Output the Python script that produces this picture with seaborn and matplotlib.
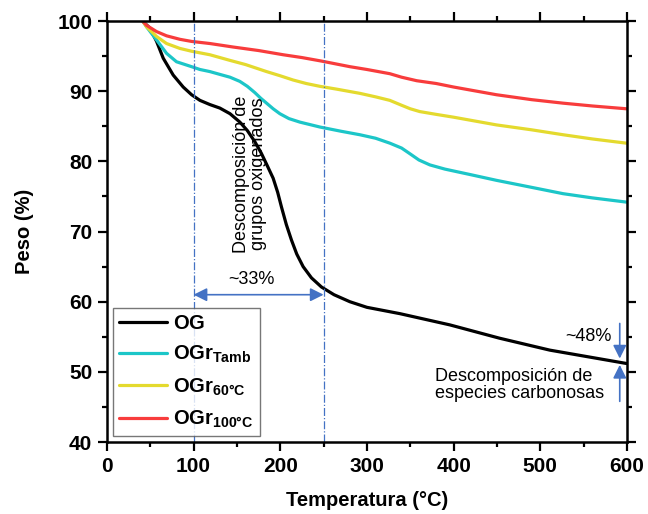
import matplotlib
matplotlib.use("Agg")
import matplotlib.pyplot as plt
import seaborn as sns
import pandas as pd
from matplotlib.ticker import MultipleLocator

sns.set_theme(style="ticks")
plt.rcParams['font.family'] = ['Liberation Sans', 'DejaVu Sans']
plt.rcParams['mathtext.fontset'] = 'custom'
plt.rcParams['mathtext.rm'] = 'Liberation Sans'
plt.rcParams['mathtext.bf'] = 'Liberation Sans:bold'
plt.rcParams['mathtext.it'] = 'Liberation Sans:italic'
plt.rcParams['text.color'] = 'black'
plt.rcParams['axes.labelcolor'] = 'black'
plt.rcParams['xtick.color'] = 'black'
plt.rcParams['ytick.color'] = 'black'

# --- data ---
og_T = [41.9, 49.6, 57.3, 65, 76.5, 88, 97.7, 107.3, 118.8, 130.3, 142, 153.4, 162, 170.7, 178, 184.2,
        191.8, 197, 201.4, 207, 212.9, 219, 226.4, 236, 247.5, 262, 280.3, 300, 338, 395.6, 453, 511, 599.3]
og_w = [99.9, 99.0, 97.1, 94.7, 92.3, 90.6, 89.5, 88.7, 88.1, 87.6, 86.8, 85.6, 84.4, 82.8, 81.2, 79.6,
        77.6, 75.6, 73.5, 71.0, 68.8, 66.8, 65.0, 63.4, 62.1, 61.0, 60.0, 59.2, 58.3, 56.7, 54.8, 53.1, 51.2]

tamb_T = [41.9, 45.6, 57.3, 68.8, 80.3, 97.7, 107.3, 118.8, 130.3, 142, 153.4, 162, 170.7, 177.5, 184.2,
          191.8, 199.5, 210, 222.6, 245.7, 270, 291.8, 310, 326.4, 340, 349.5, 360, 372.6, 390, 420, 449.5,
          490, 526.3, 560, 599.3]
tamb_w = [99.9, 99.2, 97.3, 95.4, 94.2, 93.5, 93.1, 92.8, 92.4, 92.0, 91.4, 90.7, 89.8, 89.0, 88.3,
          87.5, 86.8, 86.1, 85.6, 84.9, 84.3, 83.8, 83.3, 82.6, 81.9, 81.1, 80.2, 79.5, 78.9, 78.1, 77.3,
          76.3, 75.4, 74.8, 74.2]

t60_T = [41.9, 45.6, 57.3, 68.8, 84.2, 97.7, 118.8, 141.9, 160, 184.2, 200, 214.8, 230, 245.7, 265, 291.8,
         310, 326.4, 340, 350, 361, 380, 400, 449.5, 490, 526.3, 560, 599.3]
t60_w = [99.9, 99.2, 97.8, 96.8, 96.1, 95.7, 95.2, 94.4, 93.8, 92.8, 92.2, 91.6, 91.1, 90.7, 90.3, 89.7,
         89.2, 88.7, 88.0, 87.5, 87.1, 86.7, 86.3, 85.2, 84.5, 83.8, 83.2, 82.6]

t100_T = [41.9, 45.6, 57.3, 68.8, 84.2, 97.7, 118.8, 145.7, 175, 203.4, 225, 247.5, 280.3, 300, 326.4, 340,
          357.4, 380, 400, 449.5, 490, 526.3, 560, 599.3]
t100_w = [99.9, 99.4, 98.5, 97.9, 97.4, 97.1, 96.8, 96.3, 95.8, 95.2, 94.8, 94.3, 93.5, 93.1, 92.5, 92.0,
          91.5, 91.1, 90.6, 89.5, 88.8, 88.3, 87.9, 87.5]

series_names = [r'$\mathbf{OG}$', r'$\mathbf{OGr_{Tamb}}$', r'$\mathbf{OGr_{60°C}}$', r'$\mathbf{OGr_{100°C}}$']
series_colors = ['#000000', '#1CC6C8', '#E4DA2E', '#F83C3C']

x_ticks = [0, 100, 200, 300, 400, 500, 600]
y_ticks = [40, 50, 60, 70, 80, 90, 100]

fig = plt.figure(figsize=(6.48, 5.14), dpi=100)
ax = fig.add_axes([0.165, 0.140, 0.8025, 0.819])

data = [(og_T, og_w), (tamb_T, tamb_w), (t60_T, t60_w), (t100_T, t100_w)]
for (T, w), name, col in zip(data, series_names, series_colors):
    df = pd.DataFrame({'T': T, 'w': w})
    sns.lineplot(data=df, x='T', y='w', ax=ax, color=col, lw=2.3, label=name, sort=False)

ax.set_xlim(0, 600)
ax.set_ylim(40, 100)
ax.set_xticks(x_ticks)
ax.set_yticks(y_ticks)
ax.xaxis.set_minor_locator(MultipleLocator(50))
ax.yaxis.set_minor_locator(MultipleLocator(5))
ax.tick_params(which='both', direction='out', top=True, right=True, width=1.6, color='black')
ax.tick_params(which='major', length=6.5)
ax.tick_params(which='minor', length=3.5)
ax.tick_params(labelsize=15, pad=4)
for lab in ax.get_xticklabels() + ax.get_yticklabels():
    lab.set_fontweight('bold')
for sp in ax.spines.values():
    sp.set_linewidth(1.8)
    sp.set_color('black')
ax.set_xlabel('Temperatura (°C)', fontsize=14.5, fontweight='bold', labelpad=11)
ax.set_ylabel('Peso (%)', fontsize=14.5, fontweight='bold', labelpad=17)

# reference lines
blue = '#4472C4'
for xv in [100, 250]:
    ax.axvline(xv, color=blue, lw=0.9, ls='-.')

ax.annotate('', xy=(100, 61.0), xytext=(250, 61.0),
            arrowprops=dict(arrowstyle='<|-|>', color=blue, lw=1.2, mutation_scale=20, shrinkA=0, shrinkB=0))
ax.text(167, 63.1, '~33%', ha='center', va='center', fontsize=13)
ax.text(165, 78.2, 'Descomposición de\ngrupos oxigenados', rotation=90, ha='center', va='center',
        fontsize=13, linespacing=1.0)

ax.annotate('', xy=(591.7, 51.9), xytext=(591.7, 56.9),
            arrowprops=dict(arrowstyle='-|>', color=blue, lw=1.2, mutation_scale=20, shrinkA=0, shrinkB=0))
ax.annotate('', xy=(591.7, 51.0), xytext=(591.7, 45.8),
            arrowprops=dict(arrowstyle='-|>', color=blue, lw=1.2, mutation_scale=20, shrinkA=0, shrinkB=0))
ax.text(582, 55.0, '~48%', ha='right', va='center', fontsize=13)
ax.text(378.5, 48.2, 'Descomposición de\nespecies carbonosas', ha='left', va='center', fontsize=13,
        linespacing=1.0)

leg = ax.legend(loc='lower left', bbox_to_anchor=(0.0, 0.0), fontsize=14.5, frameon=True, fancybox=False,
                handlelength=2.4, borderpad=0.3, labelspacing=0.55, handletextpad=0.3, borderaxespad=0.3)
leg.get_frame().set_edgecolor('#555555')
leg.get_frame().set_linewidth(1.0)

fig.savefig('out.png', dpi=100)
